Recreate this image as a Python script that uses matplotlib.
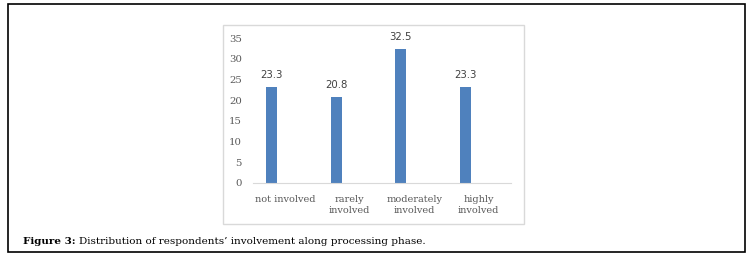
import matplotlib.pyplot as plt
from matplotlib.patches import Rectangle

categories = ["not involved", "rarely\ninvolved", "moderately\ninvolved", "highly\ninvolved"]
values = [23.3, 20.8, 32.5, 23.3]
yticks = [0, 5, 10, 15, 20, 25, 30, 35]

W, H = 754, 259
plt.rcParams["font.family"] = "DejaVu Serif"
fig = plt.figure(figsize=(W / 100, H / 100), dpi=100)


def fx(px):
    return px / W


def fy(py):
    return 1 - py / H


# outer frame and chart area box
fig.patches.append(Rectangle((fx(8), fy(252)), fx(737), 248 / H, transform=fig.transFigure,
                             fill=False, edgecolor="black", linewidth=1.2))
fig.patches.append(Rectangle((fx(223), fy(223.5)), fx(301), 199 / H, transform=fig.transFigure,
                             fill=False, edgecolor="#d9d9d9", linewidth=1.0))

ax = fig.add_axes([fx(253), fy(182.7), fx(258), 144.4 / H])
x = list(range(len(categories)))
bars = ax.bar([i - 0.21 for i in x], values, width=0.17, color="#4f81bd")
for b, v in zip(bars, values):
    ax.annotate(f"{v}", (b.get_x() + b.get_width() / 2, v), xytext=(0, 5),
                textcoords="offset points", ha="center", va="bottom",
                fontsize=7.3, color="#404040", family="DejaVu Sans")

ax.set_xlim(-0.5, len(categories) - 0.5)
ax.set_ylim(0, 35)
ax.set_yticks(yticks)
ax.set_xticks(x)
ax.set_xticklabels(categories, linespacing=1.3)
ax.tick_params(length=0, labelsize=7, colors="#595959")
ax.tick_params(axis="x", pad=9)
ax.tick_params(axis="y", labelsize=7.3, pad=8)
for s in ["top", "right", "left"]:
    ax.spines[s].set_visible(False)
ax.spines["bottom"].set_color("#d9d9d9")
ax.patch.set_alpha(0)

# caption with bold label
r = fig.canvas.get_renderer()
t1 = fig.text(fx(23), fy(242), "Figure 3:", fontsize=7.5, fontweight="bold", va="center")
bb = t1.get_window_extent(renderer=r)
fig.text(bb.x1 / W + fx(3), fy(242),
         "Distribution of respondents\u2019 involvement along processing phase.",
         fontsize=7.5, va="center")

fig.savefig("out.png", dpi=100)
